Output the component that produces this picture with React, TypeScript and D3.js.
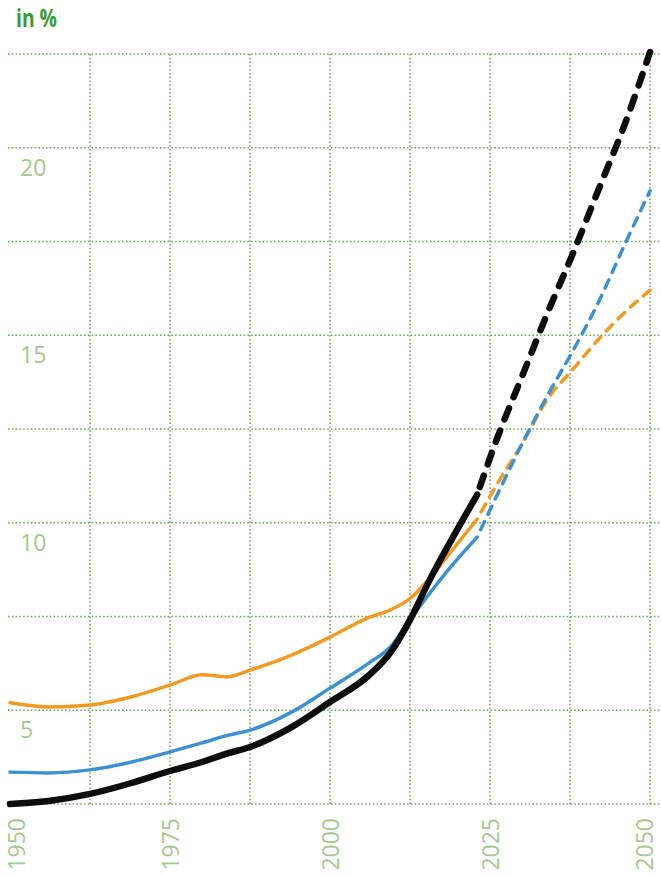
import React, { useEffect, useRef } from 'react'
import * as d3 from 'd3'

// values (share in %)
const histYears = [1950, 1956, 1962.5, 1969, 1975, 1980, 1984, 1987.5, 1994, 2000, 2006, 2009.5, 2012.5, 2015.5, 2019, 2023]
const blackHist = [2.5, 2.58, 2.77, 3.06, 3.38, 3.62, 3.85, 4.02, 4.55, 5.22, 5.92, 6.55, 7.41, 8.45, 9.55, 10.75]
const blueHist = [3.35, 3.33, 3.41, 3.62, 3.89, 4.13, 4.33, 4.47, 4.95, 5.59, 6.25, 6.7, 7.41, 8.1, 8.85, 9.62]
const orangeHist = [5.2, 5.09, 5.14, 5.36, 5.67, 5.95, 5.89, 6.07, 6.47, 6.95, 7.47, 7.68, 7.98, 8.5, 9.25, 10.1]

const projYears = [2023, 2026, 2030, 2034, 2038, 2042, 2046, 2050]
const blackProj = [10.75, 12.2, 13.9, 15.6, 17.2, 18.9, 20.6, 22.55]
const blueProj = [9.62, 10.7, 12.1, 13.4, 14.6, 15.9, 17.4, 18.85]
const orangeProj = [10.1, 11.0, 12.1, 13.3, 14.1, 14.9, 15.6, 16.2]

const yLabels = [5, 10, 15, 20]
const xLabels = [1950, 1975, 2000, 2025, 2050]

const App: React.FC = () => {
  const svgRef = useRef<SVGSVGElement>(null)

  useEffect(() => {
    document.body.style.margin = '0'
    if (!svgRef.current) return
    const svg = d3.select(svgRef.current)
    svg.selectAll('*').remove()

    const x = d3.scaleLinear().domain([1950, 2050]).range([10, 650])
    const y = d3.scaleLinear().domain([2.5, 22.5]).range([804, 54])

    const gridColor = '#6f9e5e'
    const labelColor = '#a3c98f'

    // horizontal grid
    const hVals = d3.range(2.5, 22.51, 2.5)
    svg.append('g')
      .selectAll('line')
      .data(hVals)
      .enter()
      .append('line')
      .attr('x1', 8)
      .attr('x2', 661)
      .attr('y1', d => y(d))
      .attr('y2', d => y(d))
      .attr('stroke', gridColor)
      .attr('stroke-width', 1.5)
      .attr('stroke-dasharray', '1.5,2.3')

    // vertical grid
    const vVals = d3.range(1962.5, 2050.01, 12.5)
    svg.append('g')
      .selectAll('line')
      .data(vVals)
      .enter()
      .append('line')
      .attr('x1', d => x(d))
      .attr('x2', d => x(d))
      .attr('y1', y(22.5))
      .attr('y2', y(2.5))
      .attr('stroke', gridColor)
      .attr('stroke-width', 1.5)
      .attr('stroke-dasharray', '1.5,2.3')

    // y labels
    svg.append('g')
      .selectAll('text')
      .data(yLabels)
      .enter()
      .append('text')
      .attr('x', 20)
      .attr('y', d => y(d) + 28)
      .attr('fill', labelColor)
      .style('font-family', '"Open Sans", sans-serif')
      .style('font-size', '23px')
      .text(d => d)

    // x labels (rotated)
    svg.append('g')
      .selectAll('text')
      .data(xLabels)
      .enter()
      .append('text')
      .attr('transform', d => {
        const cx = Math.max(17, Math.min(645, x(d) + 1))
        return `translate(${cx + 8},818) rotate(-90)`
      })
      .attr('text-anchor', 'end')
      .attr('fill', labelColor)
      .style('font-family', '"Open Sans", sans-serif')
      .style('font-size', '23px')
      .text(d => d)

    const line = d3.line<[number, number]>()
      .x(d => x(d[0]))
      .y(d => y(d[1]))
      .curve(d3.curveMonotoneX)

    const series = [
      { hist: orangeHist, proj: orangeProj, color: '#f29a21', w: 3.5, dash: '9,8' },
      { hist: blueHist, proj: blueProj, color: '#3d91d3', w: 3.5, dash: '9,8' },
      { hist: blackHist, proj: blackProj, color: '#0d0d0d', w: 6.5, dash: '12,12' }
    ]

    series.forEach(s => {
      const h = histYears.map((yr, i) => [yr, s.hist[i]] as [number, number])
      const p = projYears.map((yr, i) => [yr, s.proj[i]] as [number, number])
      svg.append('path')
        .attr('d', line(h))
        .attr('fill', 'none')
        .attr('stroke', s.color)
        .attr('stroke-width', s.w)
        .attr('stroke-linecap', 'round')
        .attr('stroke-linejoin', 'round')
      svg.append('path')
        .attr('d', line(p))
        .attr('fill', 'none')
        .attr('stroke', s.color)
        .attr('stroke-width', s.w)
        .attr('stroke-linecap', 'round')
        .attr('stroke-dasharray', s.dash)
        .attr('stroke-dashoffset', -8)
    })

    // title
    svg.append('text')
      .attr('x', 16)
      .attr('y', 27)
      .attr('fill', '#3f9a36')
      .attr('textLength', 41)
      .attr('lengthAdjust', 'spacingAndGlyphs')
      .style('font-family', '"Open Sans", sans-serif')
      .style('font-size', '25px')
      .style('font-weight', 'bold')
      .text('in %')
  }, [])

  return (
    <svg
      ref={svgRef}
      width={661}
      height={875}
      style={{ display: 'block', background: '#fff' }}
    />
  )
}

export default App
